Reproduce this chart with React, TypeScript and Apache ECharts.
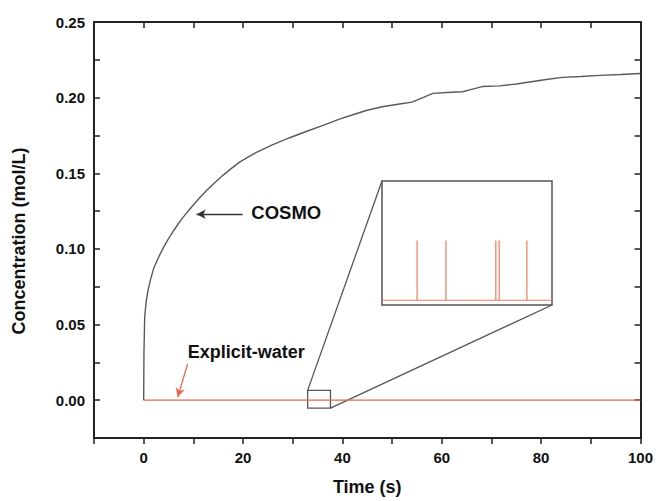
import React, { useEffect, useRef } from 'react';
import * as echarts from 'echarts';

// COSMO concentration curve: [time (s), concentration (mol/L)]
const cosmoData: [number, number][] = [
  [0, 0], [0.05, 0.03], [0.2, 0.055], [0.5, 0.065], [0.9, 0.073], [1.4, 0.08], [2, 0.087],
  [3, 0.0945], [4, 0.101], [5, 0.1068], [6, 0.112], [7, 0.1168], [8, 0.1212], [9.26, 0.1262],
  [11, 0.1328], [12.6, 0.1384], [14.3, 0.1438], [16, 0.1488], [17.6, 0.1531], [19.3, 0.1574],
  [21, 0.1607], [22.7, 0.1638], [26, 0.169], [29.4, 0.1735], [32.7, 0.1776], [36.1, 0.1817],
  [39.4, 0.1858], [41.5, 0.188], [44.8, 0.1915], [48, 0.194], [51.5, 0.1958], [54, 0.197],
  [56.2, 0.2], [58.2, 0.2028], [61, 0.2034], [64.2, 0.2039], [66, 0.2055], [68.3, 0.2074],
  [71.6, 0.2078], [75, 0.209], [78, 0.2105], [81, 0.212], [84.3, 0.2134], [88, 0.214],
  [91.8, 0.2147], [96, 0.2153], [100, 0.216],
];

// Explicit-water concentration (stays at zero on this scale)
const explicitData: [number, number][] = [[0, 0], [100, 0]];

// Zoomed window (inset)
const zoomX: [number, number] = [33, 37.6];
const zoomY: [number, number] = [-0.0052, 0.0065];
const spikeTimes = [33.95, 34.73, 36.08, 36.17, 36.92];
const spikeHeight = 0.0005;

// Annotation arrows and labels
const cosmoArrow: [number, number][] = [[19.9, 0.1229], [10.66, 0.1229]];
const explicitArrow: [number, number][] = [[8.85, 0.024], [6.84, 0.002]];
const cosmoLabelPos: [number, number] = [21.66, 0.124];
const explicitLabelPos: [number, number] = [8.85, 0.032];

const insetData: [number, number][] = (() => {
  const d: [number, number][] = [[zoomX[0], 0]];
  spikeTimes.forEach((t) => {
    d.push([t, 0], [t, spikeHeight], [t, 0]);
  });
  d.push([zoomX[1], 0]);
  return d;
})();

const RED = '#E8674A';
const AXIS = '#222';
const FONT = 'Liberation Sans, Arial, Helvetica, sans-serif';

export default function App() {
  const ref = useRef<HTMLDivElement>(null);
  useEffect(() => {
    const chart = echarts.init(ref.current!, null, { renderer: 'svg' });
    const axisLine = { show: true, onZero: false, lineStyle: { color: AXIS, width: 2 } };
    const option: any = {
      animation: false,
      backgroundColor: '#fff',
      grid: [
        { left: 94, right: 14, top: 22, bottom: 58, containLabel: false },
        {
          left: 382, top: 181, width: 170, height: 124, show: true,
          borderColor: '#555', borderWidth: 1.5, backgroundColor: 'rgba(0,0,0,0)',
        },
      ],
      xAxis: [
        {
          type: 'value', gridIndex: 0, min: -10, max: 100, interval: 10, position: 'bottom',
          axisLine, splitLine: { show: false },
          axisTick: { show: true, inside: false, length: 6, lineStyle: { color: AXIS, width: 1.5 } },
          axisLabel: {
            margin: 12, color: '#111', fontSize: 15, fontWeight: 'bold', fontFamily: FONT,
            formatter: (v: number) => (Math.round(v) % 20 === 0 ? String(Math.round(v)) : ''),
          },
          name: 'Time (s)', nameLocation: 'middle', nameGap: 40,
          nameTextStyle: { color: '#111', fontSize: 18, fontWeight: 'bold', fontFamily: FONT },
        },
        {
          type: 'value', gridIndex: 0, min: -10, max: 100, interval: 10, position: 'top',
          axisLine, splitLine: { show: false },
          axisTick: { show: true, inside: true, length: 6, lineStyle: { color: AXIS, width: 1.5 } },
          axisLabel: { show: false },
        },
        {
          type: 'value', gridIndex: 1, min: zoomX[0], max: zoomX[1], show: false,
          splitLine: { show: false },
        },
      ],
      yAxis: [
        {
          type: 'value', gridIndex: 0, min: -0.025, max: 0.25, interval: 0.025, position: 'left',
          axisLine, splitLine: { show: false },
          axisTick: { show: true, inside: true, length: 6, lineStyle: { color: AXIS, width: 1.5 } },
          axisLabel: {
            margin: 9, color: '#111', fontSize: 15, fontWeight: 'bold', fontFamily: FONT,
            formatter: (v: number) => (Math.round(v / 0.025) % 2 === 0 ? v.toFixed(2) : ''),
          },
          name: 'Concentration (mol/L)', nameLocation: 'middle', nameGap: 66,
          nameTextStyle: {
            color: '#111', fontSize: 18, fontWeight: 'bold', fontFamily: FONT,
            padding: [0, 22, 0, 0],
          },
        },
        {
          type: 'value', gridIndex: 0, min: -0.025, max: 0.25, interval: 0.025, position: 'right',
          axisLine, splitLine: { show: false },
          axisTick: { show: true, inside: true, length: 6, lineStyle: { color: AXIS, width: 1.5 } },
          axisLabel: { show: false },
        },
        {
          type: 'value', gridIndex: 1, min: -0.00004, max: 0.001, show: false,
          splitLine: { show: false },
        },
      ],
      series: [
        {
          name: 'COSMO', type: 'line', xAxisIndex: 0, yAxisIndex: 0, data: cosmoData,
          showSymbol: false, smooth: false, lineStyle: { color: '#5a5a5a', width: 1.4 },
          markLine: {
            silent: true, symbol: ['none', 'arrow'], symbolSize: [7, 9],
            label: { show: false }, lineStyle: { color: '#333', type: 'solid', width: 1.3 },
            data: [[{ coord: cosmoArrow[0] }, { coord: cosmoArrow[1] }]],
          },
        },
        {
          name: 'Explicit-water', type: 'line', xAxisIndex: 0, yAxisIndex: 0, data: explicitData,
          showSymbol: false, lineStyle: { color: RED, width: 1.2 },
          markLine: {
            silent: true, symbol: ['none', 'arrow'], symbolSize: [7, 9],
            label: { show: false }, lineStyle: { color: RED, type: 'solid', width: 1.3 },
            data: [[{ coord: explicitArrow[0] }, { coord: explicitArrow[1] }]],
          },
          markArea: {
            silent: true,
            itemStyle: { color: 'rgba(0,0,0,0)', borderColor: '#555', borderWidth: 1.3 },
            data: [[{ coord: [zoomX[0], zoomY[1]] }, { coord: [zoomX[1], zoomY[0]] }]],
          },
        },
        {
          name: 'inset', type: 'line', xAxisIndex: 2, yAxisIndex: 2, data: insetData,
          showSymbol: false, lineStyle: { color: '#EE7A5A', width: 1.2 },
        },
      ],
    };
    chart.setOption(option);

    const p = (si: number, v: [number, number]) => chart.convertToPixel({ seriesIndex: si }, v) as number[];
    const smallTL = p(0, [zoomX[0], zoomY[1]]);
    const smallBR = p(0, [zoomX[1], zoomY[0]]);
    const insetTL = p(2, [zoomX[0], 0.001]);
    const insetBR = p(2, [zoomX[1], -0.00004]);
    const cosmoLbl = p(0, cosmoLabelPos);
    const explLbl = p(0, explicitLabelPos);

    chart.setOption({
      graphic: [
        {
          type: 'line', silent: true,
          shape: { x1: smallTL[0], y1: smallTL[1], x2: insetTL[0], y2: insetTL[1] },
          style: { stroke: '#555', lineWidth: 1.3 },
        },
        {
          type: 'line', silent: true,
          shape: { x1: smallBR[0], y1: smallBR[1], x2: insetBR[0], y2: insetBR[1] },
          style: { stroke: '#555', lineWidth: 1.3 },
        },
        {
          type: 'text', x: cosmoLbl[0], y: cosmoLbl[1],
          style: {
            text: 'COSMO', fill: '#111', font: `bold 18.5px ${FONT}`,
            textAlign: 'left', textVerticalAlign: 'middle', verticalAlign: 'middle',
          },
        },
        {
          type: 'text', x: explLbl[0], y: explLbl[1],
          style: {
            text: 'Explicit-water', fill: '#111', font: `bold 18px ${FONT}`,
            textAlign: 'left', textVerticalAlign: 'middle', verticalAlign: 'middle',
          },
        },
      ],
    });
    return () => chart.dispose();
  }, []);
  return <div ref={ref} style={{ position: 'fixed', left: 0, top: 0, width: 656, height: 501 }} />;
}
